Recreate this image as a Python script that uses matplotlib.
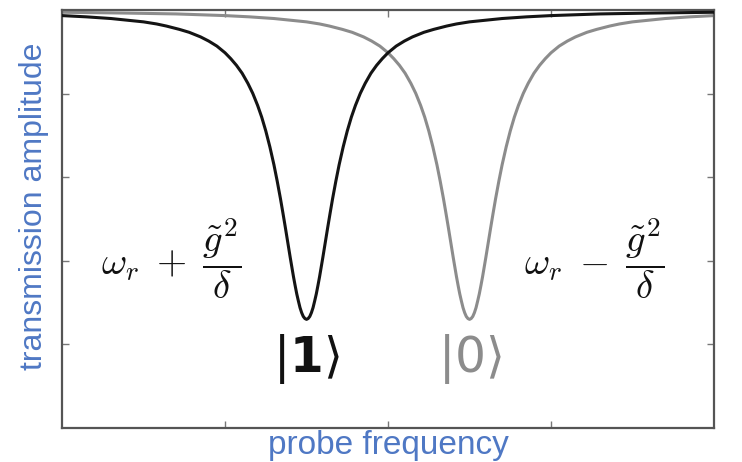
import matplotlib
matplotlib.use('Agg')
import matplotlib.pyplot as plt
import numpy as np

# dip profile: offset from resonance (frequency units) -> transmission amplitude
dip_offset = [0.0, 0.01, 0.02, 0.03, 0.04, 0.05, 0.06, 0.07, 0.08, 0.09, 0.10,
              0.115, 0.13, 0.145, 0.16, 0.18, 0.20, 0.225, 0.25, 0.275, 0.30,
              0.33, 0.36, 0.395, 0.43, 0.465, 0.50, 0.55, 0.60, 0.65, 0.72,
              0.78, 0.86, 0.92, 1.00, 1.10, 1.20, 1.35, 1.50, 1.65, 1.80,
              1.95, 2.10, 2.30, 2.50]
dip_value = [0.260, 0.262, 0.267, 0.276, 0.288, 0.304, 0.321, 0.341, 0.362, 0.385, 0.408,
             0.444, 0.480, 0.515, 0.549, 0.591, 0.630, 0.673, 0.711, 0.744, 0.772,
             0.801, 0.825, 0.849, 0.868, 0.884, 0.898, 0.914, 0.926, 0.936, 0.947,
             0.954, 0.962, 0.967, 0.972, 0.976, 0.980, 0.984, 0.987, 0.989, 0.991,
             0.992, 0.993, 0.994, 0.995]

# resonance positions for qubit in |1> and |0>
center_1 = -0.5
center_0 = 0.5
freq_min, freq_max = -2.0, 2.0


def branch(center):
    off = np.array(dip_offset)
    val = np.array(dip_value)
    x = np.concatenate([center - off[::-1], center + off[1:]])
    y = np.concatenate([val[::-1], val[1:]])
    keep = (x >= freq_min - 1e-9) & (x <= freq_max + 1e-9)
    return x[keep], y[keep]


fig = plt.figure(figsize=(7.42, 4.62), dpi=100)
ax = fig.add_axes([0.0836, 0.0736, 0.8787, 0.9044])

x1, y1 = branch(center_1)
x0, y0 = branch(center_0)
ax.plot(x0, y0, color='#8c8c8c', linewidth=2.2, solid_capstyle='round', zorder=2)
ax.plot(x1, y1, color='#141414', linewidth=2.2, solid_capstyle='round', zorder=3)

ax.set_xlim(freq_min, freq_max)
ax.set_ylim(0, 1)
ax.set_xticks([-1, 0, 1])
ax.set_yticks([0.2, 0.4, 0.6, 0.8])
ax.tick_params(direction='in', length=5, width=1, color='#777777',
               top=True, right=True, labelbottom=False, labelleft=False)
for s in ax.spines.values():
    s.set_color('#555555')
    s.set_linewidth(1.6)

label_color = '#4f78c4'
ax.set_xlabel('probe frequency', fontsize=24, color=label_color,
              family='Liberation Sans', labelpad=1.5)
ax.set_ylabel('transmission amplitude', fontsize=23, color=label_color,
              family='Liberation Sans')
ax.yaxis.set_label_coords(-0.02, 0.531)

ax.text(-1.33, 0.405, r'$\omega_r\;+\;\dfrac{\tilde{g}^2}{\delta}$', fontsize=28,
        math_fontfamily='cm', ha='center', va='center', color='#111111')
ax.text(1.264, 0.405, r'$\omega_r\;-\;\dfrac{\tilde{g}^2}{\delta}$', fontsize=28,
        math_fontfamily='cm', ha='center', va='center', color='#111111')

ax.text(center_1, 0.165, r'$|\mathbf{1}\rangle$', fontsize=35,
        math_fontfamily='dejavusans', ha='center', va='center', color='#111111')
ax.text(center_0, 0.165, r'$|0\rangle$', fontsize=35,
        math_fontfamily='dejavusans', ha='center', va='center', color='#8c8c8c')

fig.savefig('out.png', dpi=100, facecolor='white')
